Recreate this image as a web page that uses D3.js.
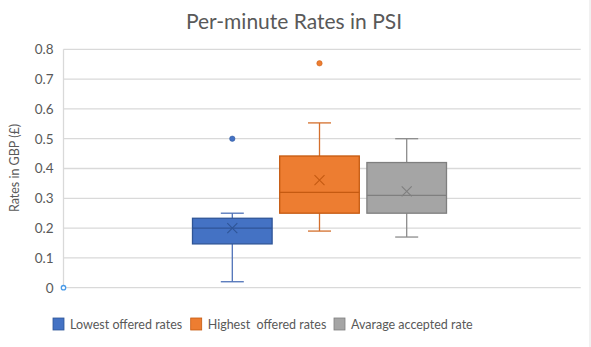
<!DOCTYPE html>
<html>
<head>
<meta charset="utf-8">
<script src="https://cdn.jsdelivr.net/npm/d3@7"></script>
<style>
  body { margin: 0; background: #fff; }
  text { font-family: Lato, "Open Sans", sans-serif; }
</style>
</head>
<body>
<script>
// Box plot summary values
let seriesNames = ['Lowest offered rates', 'Highest  offered rates', 'Avarage accepted rate'];
let minVals = [0.02, 0.19, 0.17];
let q1Vals = [0.147, 0.25, 0.25];
let medianVals = [0.2, 0.32, 0.31];
let q3Vals = [0.233, 0.442, 0.42];
let maxVals = [0.25, 0.553, 0.5];
let meanVals = [0.2, 0.361, 0.323];
let outlierVals = [[0.5], [0.753], []];
let strayPoint = [0];
let yTicks = [0, 0.1, 0.2, 0.3, 0.4, 0.5, 0.6, 0.7, 0.8];

let fills = ['#4472C4', '#ED7D31', '#A5A5A5'];
let strokes = ['#2F5597', '#C55A11', '#7F7F7F'];
let whiskerCols = ['#4F72B8', '#D46F2C', '#8C8C8C'];

let width = 591, height = 347;
let plotLeft = 63.5, plotRight = 580.7, plotTop = 49.3, plotBottom = 287.7;

let svg = d3.select('body').append('svg')
  .attr('width', width)
  .attr('height', height);

let y = d3.scaleLinear().domain([0, 0.8]).range([plotBottom, plotTop]);
let x = d3.scaleBand().domain(seriesNames).range([192.5, 446.5]).paddingInner(0.087);
let bw = x.bandwidth();
let cx = d => x(d) + bw / 2;

// gridlines
svg.append('g')
  .selectAll('line')
  .data(yTicks)
  .enter()
  .append('line')
  .attr('x1', plotLeft)
  .attr('x2', plotRight)
  .attr('y1', d => y(d))
  .attr('y2', d => y(d))
  .attr('stroke', '#d9d9d9')
  .attr('stroke-width', 1.3);

// left axis line
svg.append('line')
  .attr('x1', plotLeft).attr('x2', plotLeft)
  .attr('y1', plotTop).attr('y2', plotBottom)
  .attr('stroke', '#d9d9d9')
  .attr('stroke-width', 1.3);

// right frame edge
svg.append('line')
  .attr('x1', 590).attr('x2', 590)
  .attr('y1', 0).attr('y2', height)
  .attr('stroke', '#e3e3e3')
  .attr('stroke-width', 1);

// y tick labels
let yAxis = svg.append('g')
  .attr('transform', `translate(${plotLeft - 10},0)`)
  .call(d3.axisLeft(y).tickValues(yTicks).tickSize(0).tickPadding(0).tickFormat(d3.format('')));
yAxis.select('.domain').remove();
yAxis.selectAll('text')
  .attr('font-family', 'Lato, sans-serif')
  .attr('font-size', '13.5px')
  .attr('fill', '#595959');

// y title
svg.append('text')
  .attr('transform', 'translate(19,168) rotate(-90)')
  .attr('text-anchor', 'middle')
  .attr('font-size', '12.5px')
  .attr('fill', '#595959')
  .text('Rates in GBP (£)');

// title
svg.append('text')
  .attr('x', 294)
  .attr('y', 29)
  .attr('text-anchor', 'middle')
  .attr('font-size', '21px')
  .attr('fill', '#595959')
  .text('Per-minute Rates in PSI');

let boxes = svg.selectAll('g.box')
  .data(seriesNames)
  .enter()
  .append('g')
  .attr('class', 'box');

// whiskers
boxes.append('line')
  .attr('x1', d => cx(d)).attr('x2', d => cx(d))
  .attr('y1', (d, i) => y(maxVals[i])).attr('y2', (d, i) => y(q3Vals[i]))
  .attr('stroke', (d, i) => whiskerCols[i]).attr('stroke-width', 1.3);
boxes.append('line')
  .attr('x1', d => cx(d)).attr('x2', d => cx(d))
  .attr('y1', (d, i) => y(q1Vals[i])).attr('y2', (d, i) => y(minVals[i]))
  .attr('stroke', (d, i) => whiskerCols[i]).attr('stroke-width', 1.3);
boxes.append('line')
  .attr('x1', d => cx(d) - 11.5).attr('x2', d => cx(d) + 11.5)
  .attr('y1', (d, i) => y(maxVals[i])).attr('y2', (d, i) => y(maxVals[i]))
  .attr('stroke', (d, i) => whiskerCols[i]).attr('stroke-width', 1.3);
boxes.append('line')
  .attr('x1', d => cx(d) - 11.5).attr('x2', d => cx(d) + 11.5)
  .attr('y1', (d, i) => y(minVals[i])).attr('y2', (d, i) => y(minVals[i]))
  .attr('stroke', (d, i) => whiskerCols[i]).attr('stroke-width', 1.3);

// boxes
boxes.append('rect')
  .attr('x', d => x(d))
  .attr('y', (d, i) => y(q3Vals[i]))
  .attr('width', bw)
  .attr('height', (d, i) => y(q1Vals[i]) - y(q3Vals[i]))
  .attr('fill', (d, i) => fills[i])
  .attr('stroke', (d, i) => strokes[i])
  .attr('stroke-width', 1.3);

// median
boxes.append('line')
  .attr('x1', d => x(d)).attr('x2', d => x(d) + bw)
  .attr('y1', (d, i) => y(medianVals[i])).attr('y2', (d, i) => y(medianVals[i]))
  .attr('stroke', (d, i) => strokes[i]).attr('stroke-width', 1.3);

// mean marker X
boxes.append('path')
  .attr('d', (d, i) => {
    let px = cx(d), py = y(meanVals[i]), s = 5;
    return `M${px - s},${py - s}L${px + s},${py + s}M${px - s},${py + s}L${px + s},${py - s}`;
  })
  .attr('stroke', (d, i) => strokes[i])
  .attr('stroke-width', 1.1)
  .attr('fill', 'none');

// outliers
boxes.each(function(d, i) {
  d3.select(this).selectAll('circle')
    .data(outlierVals[i])
    .enter()
    .append('circle')
    .attr('cx', cx(d))
    .attr('cy', v => y(v))
    .attr('r', 2.7)
    .attr('fill', fills[i])
    .attr('stroke', strokes[i])
    .attr('stroke-width', 0.5);
});

// stray marker at the axis origin
svg.selectAll('circle.stray')
  .data(strayPoint)
  .enter()
  .append('circle')
  .attr('class', 'stray')
  .attr('cx', plotLeft)
  .attr('cy', d => y(d))
  .attr('r', 2.2)
  .attr('fill', '#fff')
  .attr('stroke', '#4A9BE8')
  .attr('stroke-width', 1.3);

// legend
let legendX = [53, 190.7, 334];
let legend = svg.selectAll('g.legend')
  .data(seriesNames)
  .enter()
  .append('g')
  .attr('class', 'legend')
  .attr('transform', (d, i) => `translate(${legendX[i]},318)`);
legend.append('rect')
  .attr('width', 11)
  .attr('height', 12)
  .attr('fill', (d, i) => fills[i])
  .attr('stroke', (d, i) => strokes[i])
  .attr('stroke-width', 0.8);
legend.append('text')
  .attr('x', 17)
  .attr('y', 11)
  .attr('font-size', '12.5px')
  .attr('fill', '#595959')
  .style('white-space', 'pre')
  .text(d => d);
</script>
</body>
</html>
